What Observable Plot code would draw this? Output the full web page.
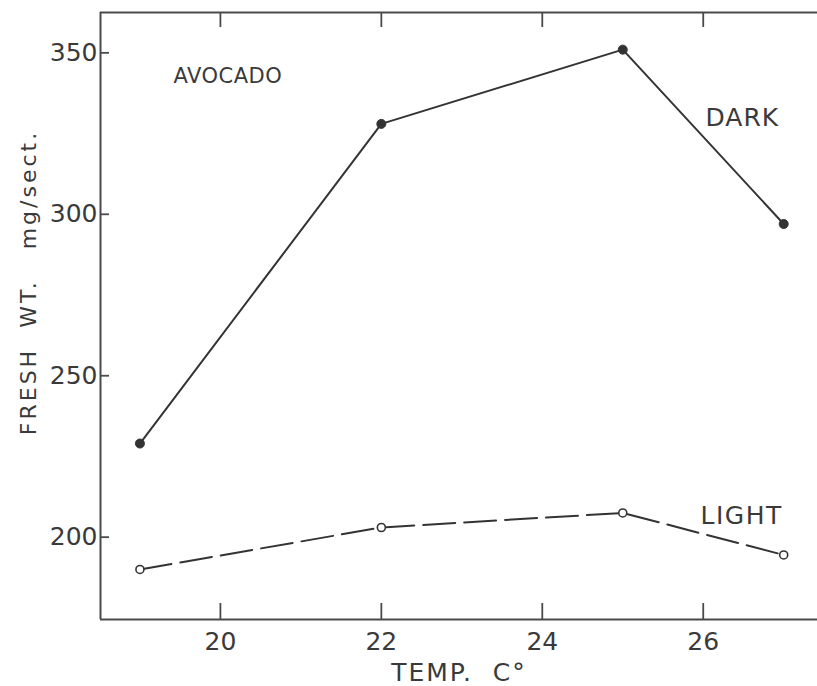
<!DOCTYPE html>
<html>
<head>
<meta charset="utf-8">
<script src="https://cdn.jsdelivr.net/npm/d3@7"></script>
<script src="https://cdn.jsdelivr.net/npm/@observablehq/plot@0.6"></script>
<style>
  html, body { margin: 0; padding: 0; background: #ffffff; overflow: hidden; }
  #chart { width: 817px; height: 686px; }
  #chart svg { display: block; }
</style>
</head>
<body>
<div id="chart"></div>
<script>
// ---- data ----
const temps = [19, 22, 25, 27];
const darkValues = [229, 328, 351, 297];
const lightValues = [190, 203, 207.5, 194.5];
const xTicks = [20, 22, 24, 26];
const yTicks = [200, 250, 300, 350];
const xDomain = [18.51, 27.42];
const yDomain = [174.5, 362.5];
const chartTitle = "AVOCADO";
const seriesNames = ["DARK", "LIGHT"];
const xLabel = "TEMP.\u00a0\u00a0C°";
const yLabel = "FRESH\u00a0\u00a0WT.\u00a0\u00a0\u00a0mg/sect.";

const dark = temps.map((t, i) => ({temp: t, value: darkValues[i]}));
const light = temps.map((t, i) => ({temp: t, value: lightValues[i]}));

// ---- layout ----
const W = 817, H = 686;
const mL = 100, mR = 0, mT = 12, mB = 67;
const frameW = W - mL - mR, frameH = H - mT - mB;
const ink = "#333333";
const axisInk = "#4a4a4a";
const textInk = "#3a3a3a";
const font = "DejaVu Sans";

const chart = Plot.plot({
  width: W, height: H, marginLeft: mL, marginRight: mR, marginTop: mT, marginBottom: mB,
  style: {fontFamily: font, fontSize: "25px", color: textInk, background: "#ffffff", overflow: "hidden"},
  x: {domain: xDomain},
  y: {domain: yDomain},
  marks: [
    // frame lines (left, bottom, top)
    Plot.ruleX([xDomain[0]], {stroke: axisInk, strokeWidth: 2}),
    Plot.ruleY([yDomain[0]], {stroke: axisInk, strokeWidth: 2}),
    Plot.ruleY([yDomain[1]], {stroke: axisInk, strokeWidth: 2}),
    // inward ticks
    Plot.ruleX(xTicks, {stroke: axisInk, strokeWidth: 1.8, insetTop: frameH - 16}),
    Plot.ruleX(xTicks, {stroke: axisInk, strokeWidth: 1.8, insetBottom: frameH - 15}),
    Plot.ruleY(yTicks, {stroke: axisInk, strokeWidth: 1.8, insetRight: frameW - 9}),
    // tick labels
    Plot.axisX({anchor: "bottom", ticks: xTicks, tickSize: 0, tickPadding: 13, label: null, fontSize: 25, fill: textInk}),
    Plot.axisY({anchor: "left", ticks: yTicks, tickSize: 0, tickPadding: 3, label: null, fontSize: 25, fill: textInk}),
    // axis titles
    Plot.text([xLabel], {frameAnchor: "bottom", dy: 53, lineAnchor: "middle", fontSize: 25, fill: textInk}),
    Plot.text([yLabel], {frameAnchor: "left", dx: -72, dy: -33.5, rotate: -90, textAnchor: "middle", lineAnchor: "middle", fontSize: 22, fill: textInk}),
    // series
    Plot.line(dark, {x: "temp", y: "value", stroke: ink, strokeWidth: 2}),
    Plot.line(light, {x: "temp", y: "value", stroke: ink, strokeWidth: 2, strokeDasharray: "32,9"}),
    Plot.dot(dark, {x: "temp", y: "value", r: 4.5, fill: ink, stroke: ink, strokeWidth: 1}),
    Plot.dot(light, {x: "temp", y: "value", r: 4, fill: "#ffffff", stroke: ink, strokeWidth: 1.6}),
    // annotations
    Plot.text([chartTitle], {frameAnchor: "top-left", dx: 73, dy: 64, textAnchor: "start", lineAnchor: "middle", fontSize: 21, fill: textInk}),
    Plot.text([seriesNames[0]], {frameAnchor: "top-right", dx: -112, dy: 105, textAnchor: "start", lineAnchor: "middle", fontSize: 25, fill: textInk}),
    Plot.text([seriesNames[1]], {frameAnchor: "bottom-right", dx: -117, dy: -104, textAnchor: "start", lineAnchor: "middle", fontSize: 25, fill: textInk})
  ]
});
document.getElementById("chart").appendChild(chart);

// letter spacing for the hand-lettered labels
const spacing = new Map([[chartTitle, "0.5px"], [yLabel, "3px"], [xLabel, "2px"], [seriesNames[0], "1px"], [seriesNames[1], "1.5px"]]);
d3.select(chart).selectAll("text").each(function() {
  const s = spacing.get(this.textContent);
  if (s) this.style.letterSpacing = s;
});
</script>
</body>
</html>
